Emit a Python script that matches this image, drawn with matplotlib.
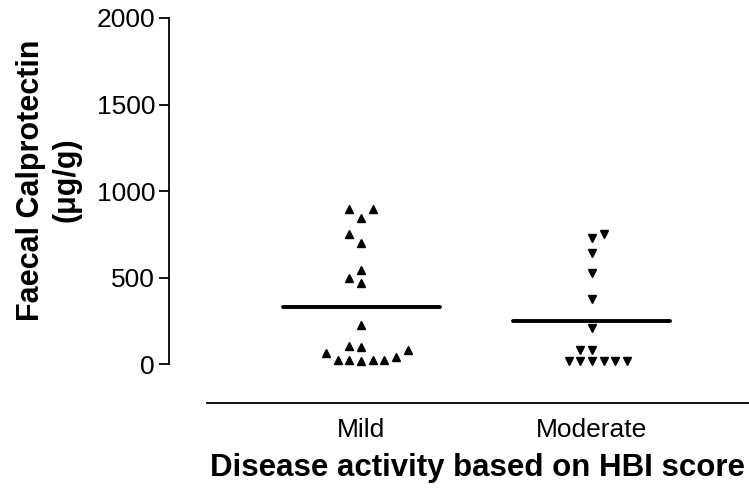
import matplotlib
matplotlib.use("Agg")
import matplotlib.pyplot as plt
import numpy as np

plt.rcParams['font.family'] = ['Liberation Sans', 'DejaVu Sans']

categories = ["Mild", "Moderate"]
mild_values = [896, 846, 894, 751, 701, 543, 499, 470, 225, 104, 96, 62, 79,
               22, 22, 20, 22, 24, 38]
moderate_values = [727, 751, 640, 524, 376, 210, 82, 82,
                   15, 15, 15, 15, 15, 15]
yticks = [0, 500, 1000, 1500, 2000]

# horizontal slot offsets (layout only)
mild_slots = [-1, 0, 1, -1, 0, 0, -1, 0, 0, -1, 0, -3, 4, -2, -1, 0, 1, 2, 3]
moderate_slots = [0, 1, 0, 0, 0, 0, -1, 0, -2, -1, 0, 1, 2, 3]
slot_w = 0.0505

fig = plt.figure(figsize=(7.49, 4.90), dpi=100)
ax = fig.add_axes([207/749, 87/490, 542/749, 385/490])

groups = [(mild_values, mild_slots, '^'), (moderate_values, moderate_slots, 'v')]
for i, (vals, slots, mk) in enumerate(groups):
    pos = i + 1
    xs = pos + np.array(slots) * slot_w
    ax.plot(xs, vals, linestyle='none', marker=mk, color='black', markersize=6.3)
    m = np.mean(vals)
    ax.plot([pos - 0.34, pos + 0.34], [m, m], color='black', linewidth=2.8,
            solid_capstyle='round')

ax.set_xlim(0.333, 2.68)
ax.set_ylim(-225, 2000)
ax.set_xticks([1, 2])
ax.set_xticklabels(categories)
ax.tick_params(axis='x', length=0, pad=11, labelsize=19)
ax.set_yticks(yticks)
ax.set_yticklabels([str(v) for v in yticks])
ax.tick_params(axis='y', length=7, width=1.3, pad=3, labelsize=19)

for s in ['top', 'right']:
    ax.spines[s].set_visible(False)
ax.spines['left'].set_position(('outward', 27.4))
ax.spines['left'].set_bounds(0, 2000)
ax.spines['left'].set_linewidth(1.3)
ax.spines['bottom'].set_linewidth(1.3)

ax.set_xlabel("Disease activity based on HBI score", fontsize=22.5, fontweight='bold', labelpad=8)
ax.set_ylabel("Faecal Calprotectin\n(\u03bcg/g)", fontsize=22, fontweight='bold',
              linespacing=1.25)
ax.yaxis.set_label_coords(-0.231, 0.579)

fig.savefig("out.png", dpi=100)
